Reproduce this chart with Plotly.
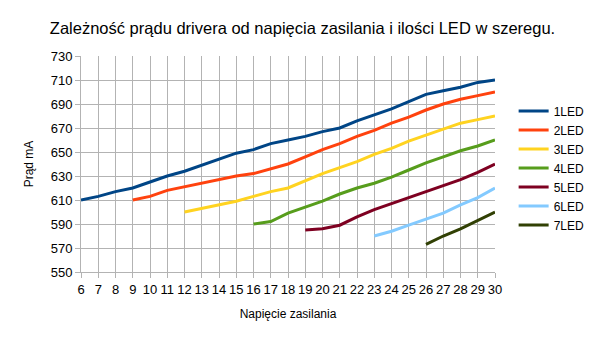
import plotly.graph_objects as go

title = "Zależność prądu drivera od napięcia zasilania i ilości LED w szeregu."
x_title = "Napięcie zasilania"
y_title = "Prąd mA"

names = ["1LED", "2LED", "3LED", "4LED", "5LED", "6LED", "7LED"]
colors = ["#004586", "#ff420e", "#ffd320", "#579d1c", "#7e0021", "#83caff", "#314004"]

x_1 = list(range(6, 31))
y_1 = [610, 613, 617, 620, 625, 630, 634, 639, 644, 649, 652, 657, 660, 663, 667, 670, 676, 681, 686, 692, 698, 701, 704, 708, 710]
x_2 = list(range(9, 31))
y_2 = [610, 613, 618, 621, 624, 627, 630, 632, 636, 640, 646, 652, 657, 663, 668, 674, 679, 685, 690, 694, 697, 700]
x_3 = list(range(12, 31))
y_3 = [600, 603, 606, 609, 613, 617, 620, 626, 632, 637, 642, 648, 653, 659, 664, 669, 674, 677, 680]
x_4 = list(range(16, 31))
y_4 = [590, 592, 599, 604, 609, 615, 620, 624, 629, 635, 641, 646, 651, 655, 660]
x_5 = list(range(19, 31))
y_5 = [585, 586, 589, 596, 602, 607, 612, 617, 622, 627, 633, 640]
x_6 = list(range(23, 31))
y_6 = [580, 584, 589, 594, 599, 606, 612, 620]
x_7 = list(range(26, 31))
y_7 = [573, 580, 586, 593, 600]

xs = [x_1, x_2, x_3, x_4, x_5, x_6, x_7]
ys = [y_1, y_2, y_3, y_4, y_5, y_6, y_7]

x_ticks = list(range(6, 31))
y_ticks = list(range(550, 731, 20))

FONT = "Liberation Sans, Arial, sans-serif"

fig = go.Figure()
for n, c, xv, yv in zip(names, colors, xs, ys):
    fig.add_trace(go.Scatter(x=xv, y=yv, mode="lines", name=n,
                             line=dict(color=c, width=3)))

fig.update_layout(
    width=605, height=340,
    margin=dict(l=81, r=110, t=56, b=68),
    paper_bgcolor="white", plot_bgcolor="white",
    font=dict(family=FONT, size=13, color="#000000"),
    title=dict(text=title, x=0.5, xanchor="center", y=0.918, yanchor="middle",
               font=dict(family=FONT, size=16.5, color="#000000")),
    showlegend=True,
    legend=dict(x=1.045, xanchor="left", y=0.482, yanchor="middle",
                font=dict(family=FONT, size=12), itemwidth=30,
                tracegroupgap=0, bgcolor="rgba(0,0,0,0)"),
)
fig.update_xaxes(range=[6, 30], tickmode="array", tickvals=x_ticks,
                 ticktext=[str(v) for v in x_ticks],
                 showgrid=True, gridcolor="#b3b3b3", gridwidth=1,
                 showline=True, linecolor="#b3b3b3", ticks="outside",
                 ticklen=5, tickcolor="#b3b3b3", zeroline=False,
                 title=dict(text=x_title, font=dict(size=12), standoff=14),
                 tickfont=dict(size=13))
fig.update_yaxes(range=[550, 730], tickmode="array", tickvals=y_ticks,
                 ticktext=[str(v) for v in y_ticks],
                 showgrid=True, gridcolor="#b3b3b3", gridwidth=1,
                 showline=True, linecolor="#b3b3b3", ticks="outside",
                 ticklen=5, tickcolor="#b3b3b3", zeroline=False,
                 title=dict(text=y_title, font=dict(size=12), standoff=14),
                 tickfont=dict(size=13))

fig.write_html("out.html")
